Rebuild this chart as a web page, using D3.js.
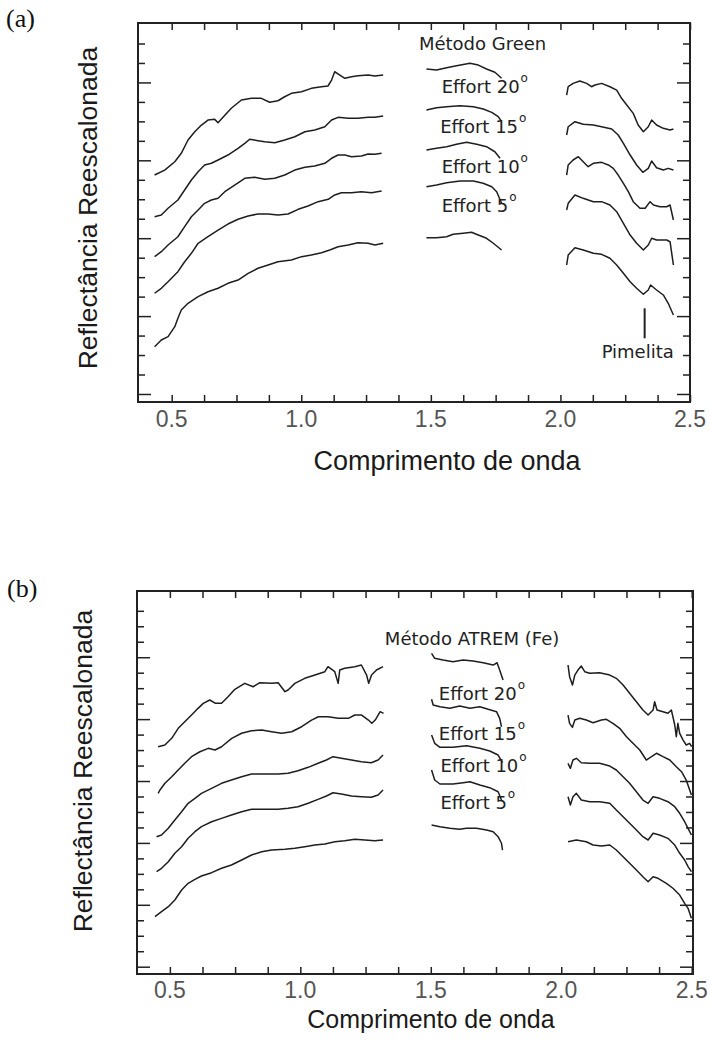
<!DOCTYPE html>
<html>
<head>
<meta charset="utf-8">
<script src="https://cdn.jsdelivr.net/npm/d3@7"></script>
<style>
  body { margin: 0; background: #fff; }
  svg { display: block; }
  .spectrum { fill: none; stroke: #1e1e1e; stroke-width: 1.5; stroke-linejoin: round; }
  .frame { fill: none; stroke: #222; stroke-width: 2; }
  .tick-axis line { stroke: #222; stroke-width: 1.5; }
  .tick-label { font-family: 'Liberation Sans', Arial, sans-serif; font-size: 23px; fill: #555; text-anchor: middle; }
  .axis-title { font-family: 'Liberation Sans', Arial, sans-serif; fill: #1a1a1a; text-anchor: middle; }
  .note { font-family: 'DejaVu Sans', sans-serif; font-size: 18px; fill: #222; }
  .panel-tag { font-family: 'Liberation Serif', 'Times New Roman', serif; font-size: 26px; fill: #111; }
</style>
</head>
<body>
<div id="chart"></div>
<script>
// wavelength (um) vs rescaled reflectance, null = gap in the water bands
const greenMethod = [[0.434,2.811],[0.473,2.875],[0.512,2.982],[0.537,3.090],[0.563,3.261],[0.589,3.367],[0.615,3.453],[0.640,3.517],[0.666,3.526],[0.679,3.483],[0.698,3.552],[0.730,3.668],[0.769,3.774],[0.808,3.796],[0.846,3.796],[0.878,3.745],[0.910,3.765],[0.936,3.816],[0.962,3.860],[1.001,3.881],[1.039,3.924],[1.078,3.945],[1.103,3.954],[1.117,4.031],[1.129,4.137],[1.149,4.095],[1.168,4.053],[1.194,4.073],[1.219,4.086],[1.258,4.095],[1.284,4.082],[1.316,4.095],
  null,[1.483,4.172],[1.522,4.159],[1.561,4.189],[1.599,4.214],[1.651,4.245],[1.683,4.223],[1.715,4.172],[1.747,4.130],[1.773,4.053],
  null,[2.024,3.838],[2.030,3.945],[2.049,3.988],[2.075,4.018],[2.101,3.988],[2.120,3.945],[2.133,3.967],[2.159,3.988],[2.191,3.945],[2.217,3.902],[2.236,3.796],[2.256,3.710],[2.281,3.603],[2.300,3.453],[2.320,3.367],[2.339,3.431],[2.352,3.517],[2.371,3.453],[2.397,3.411],[2.423,3.389],[2.436,3.402]];

const green20 = [[0.434,2.276],[0.460,2.298],[0.486,2.384],[0.524,2.490],[0.550,2.619],[0.576,2.747],[0.602,2.854],[0.627,2.940],[0.653,2.962],[0.679,3.004],[0.717,3.068],[0.756,3.154],[0.782,3.218],[0.801,3.270],[0.833,3.252],[0.859,3.239],[0.898,3.226],[0.936,3.261],[0.975,3.303],[1.014,3.367],[1.052,3.389],[1.091,3.431],[1.117,3.517],[1.142,3.552],[1.181,3.539],[1.219,3.539],[1.258,3.552],[1.284,3.552],[1.316,3.569],
  null,[1.483,3.646],[1.522,3.675],[1.561,3.688],[1.612,3.701],[1.664,3.688],[1.702,3.659],[1.735,3.616],[1.760,3.560],[1.773,3.496],
  null,[2.024,3.325],[2.030,3.431],[2.056,3.496],[2.088,3.462],[2.127,3.453],[2.159,3.431],[2.198,3.402],[2.223,3.325],[2.243,3.218],[2.269,3.068],[2.294,2.940],[2.318,2.846],[2.339,2.897],[2.352,2.991],[2.371,2.905],[2.397,2.875],[2.416,2.897],[2.436,2.875]];

const green15 = [[0.434,1.763],[0.460,1.827],[0.486,1.913],[0.524,2.019],[0.550,2.148],[0.576,2.276],[0.602,2.362],[0.627,2.448],[0.653,2.490],[0.679,2.512],[0.705,2.597],[0.743,2.683],[0.782,2.769],[0.820,2.782],[0.859,2.756],[0.898,2.769],[0.936,2.811],[0.975,2.875],[1.014,2.910],[1.052,2.927],[1.091,2.962],[1.117,3.026],[1.142,3.068],[1.168,3.068],[1.194,3.046],[1.232,3.055],[1.258,3.081],[1.284,3.077],[1.310,3.090],
  null,[1.483,3.132],[1.522,3.154],[1.561,3.175],[1.599,3.205],[1.638,3.231],[1.677,3.205],[1.715,3.175],[1.747,3.110],[1.767,3.026],
  null,[2.024,2.811],[2.030,2.940],[2.049,3.004],[2.069,3.046],[2.088,2.982],[2.107,2.918],[2.127,2.962],[2.159,2.974],[2.185,2.940],[2.204,2.897],[2.223,2.811],[2.243,2.705],[2.262,2.597],[2.281,2.469],[2.307,2.384],[2.327,2.384],[2.346,2.469],[2.359,2.426],[2.384,2.404],[2.410,2.404],[2.423,2.426],[2.436,2.234]];

const green10 = [[0.434,1.293],[0.460,1.357],[0.486,1.442],[0.524,1.570],[0.550,1.698],[0.576,1.806],[0.602,1.935],[0.640,2.019],[0.679,2.105],[0.717,2.182],[0.756,2.243],[0.795,2.285],[0.833,2.311],[0.872,2.311],[0.910,2.298],[0.949,2.311],[0.988,2.371],[1.026,2.413],[1.065,2.469],[1.104,2.499],[1.129,2.555],[1.155,2.584],[1.194,2.584],[1.232,2.597],[1.271,2.584],[1.310,2.606],
  null,[1.483,2.661],[1.522,2.683],[1.561,2.712],[1.612,2.734],[1.664,2.734],[1.702,2.705],[1.735,2.661],[1.754,2.597],[1.773,2.448],
  null,[2.024,2.362],[2.030,2.448],[2.056,2.555],[2.088,2.512],[2.127,2.469],[2.159,2.469],[2.191,2.426],[2.217,2.340],[2.243,2.191],[2.269,2.041],[2.294,1.935],[2.320,1.849],[2.339,1.913],[2.352,1.999],[2.371,1.977],[2.410,1.977],[2.423,1.955],[2.436,1.656]];

const green5 = [[0.434,0.607],[0.460,0.693],[0.486,0.736],[0.512,0.864],[0.524,0.972],[0.537,1.078],[0.563,1.164],[0.602,1.249],[0.640,1.313],[0.679,1.357],[0.717,1.421],[0.756,1.463],[0.795,1.549],[0.833,1.614],[0.872,1.656],[0.910,1.698],[0.962,1.720],[1.001,1.763],[1.039,1.784],[1.078,1.814],[1.110,1.849],[1.142,1.891],[1.181,1.913],[1.219,1.942],[1.258,1.935],[1.284,1.913],[1.316,1.935],
  null,[1.483,2.006],[1.522,2.006],[1.561,2.019],[1.586,2.050],[1.625,2.063],[1.657,2.076],[1.683,2.041],[1.715,1.999],[1.741,1.935],[1.773,1.849],
  null,[2.024,1.656],[2.030,1.784],[2.056,1.878],[2.088,1.849],[2.127,1.806],[2.159,1.793],[2.191,1.742],[2.217,1.656],[2.243,1.549],[2.269,1.442],[2.294,1.357],[2.320,1.280],[2.339,1.335],[2.348,1.399],[2.371,1.335],[2.397,1.271],[2.416,1.164],[2.436,1.014]];

const atremMethod = [[0.455,3.554],[0.481,3.582],[0.507,3.690],[0.532,3.851],[0.557,3.958],[0.583,4.066],[0.608,4.174],[0.628,4.255],[0.653,4.309],[0.675,4.255],[0.698,4.255],[0.723,4.362],[0.749,4.481],[0.787,4.578],[0.819,4.523],[0.845,4.588],[0.890,4.578],[0.915,4.588],[0.941,4.443],[0.953,4.470],[0.979,4.578],[1.017,4.659],[1.056,4.712],[1.094,4.766],[1.106,4.847],[1.132,4.766],[1.145,4.578],[1.151,4.793],[1.170,4.821],[1.209,4.847],[1.234,4.874],[1.254,4.712],[1.262,4.578],[1.273,4.712],[1.292,4.793],[1.317,4.847],
  null,[1.503,5.063],[1.515,4.982],[1.547,4.955],[1.585,4.927],[1.624,4.955],[1.662,4.939],[1.701,4.911],[1.739,4.874],[1.754,4.911],[1.764,4.793],[1.777,4.632],
  null,[2.026,4.874],[2.032,4.685],[2.043,4.551],[2.052,4.712],[2.064,4.793],[2.077,4.858],[2.090,4.766],[2.109,4.740],[2.147,4.750],[2.186,4.712],[2.211,4.659],[2.237,4.551],[2.262,4.417],[2.288,4.281],[2.313,4.147],[2.333,4.066],[2.352,4.147],[2.358,4.281],[2.367,4.147],[2.390,4.120],[2.409,4.094],[2.422,4.147],[2.428,4.039],[2.435,3.905],[2.441,3.716],[2.447,3.932],[2.454,3.771],[2.467,3.662],[2.479,3.582],[2.492,3.609],[2.500,3.554]];

const atrem20 = [[0.455,2.801],[0.462,2.855],[0.481,2.963],[0.507,3.069],[0.532,3.178],[0.557,3.286],[0.583,3.393],[0.615,3.473],[0.647,3.528],[0.673,3.501],[0.698,3.554],[0.737,3.690],[0.775,3.771],[0.813,3.813],[0.852,3.824],[0.890,3.796],[0.928,3.771],[0.967,3.796],[1.005,3.877],[1.043,3.985],[1.069,4.039],[1.107,4.039],[1.145,4.013],[1.184,4.013],[1.209,4.066],[1.235,4.066],[1.261,3.985],[1.274,3.932],[1.287,3.985],[1.306,4.120],[1.319,4.094],
  null,[1.503,4.320],[1.509,4.228],[1.535,4.200],[1.573,4.174],[1.611,4.212],[1.650,4.174],[1.688,4.200],[1.720,4.158],[1.752,4.120],[1.764,4.013],[1.771,3.877],
  null,[2.026,4.066],[2.032,3.932],[2.043,3.867],[2.052,3.985],[2.071,4.013],[2.096,3.985],[2.122,3.942],[2.154,3.985],[2.173,3.997],[2.198,3.932],[2.224,3.851],[2.250,3.716],[2.275,3.609],[2.301,3.501],[2.326,3.339],[2.346,3.393],[2.365,3.448],[2.390,3.393],[2.416,3.339],[2.441,3.231],[2.461,3.150],[2.479,3.016],[2.499,2.774]];

const atrem15 = [[0.449,2.100],[0.468,2.128],[0.494,2.236],[0.519,2.370],[0.545,2.504],[0.570,2.640],[0.596,2.720],[0.621,2.801],[0.660,2.882],[0.698,2.963],[0.736,3.016],[0.775,3.069],[0.813,3.113],[0.864,3.113],[0.915,3.113],[0.953,3.124],[0.991,3.166],[1.030,3.221],[1.068,3.286],[1.100,3.339],[1.125,3.393],[1.157,3.367],[1.196,3.339],[1.234,3.312],[1.272,3.296],[1.298,3.339],[1.317,3.420],
  null,[1.503,3.743],[1.515,3.609],[1.535,3.544],[1.585,3.544],[1.637,3.570],[1.688,3.528],[1.726,3.485],[1.758,3.420],[1.775,3.296],
  null,[2.026,3.286],[2.035,3.205],[2.045,3.339],[2.058,3.367],[2.077,3.296],[2.109,3.286],[2.147,3.286],[2.186,3.242],[2.211,3.178],[2.237,3.069],[2.262,2.963],[2.288,2.827],[2.313,2.693],[2.333,2.640],[2.352,2.746],[2.377,2.720],[2.409,2.666],[2.435,2.585],[2.454,2.478],[2.473,2.342],[2.486,2.236],[2.499,2.128]];

const atrem10 = [[0.449,1.535],[0.468,1.590],[0.494,1.696],[0.519,1.832],[0.545,1.939],[0.570,2.074],[0.596,2.181],[0.621,2.262],[0.660,2.342],[0.698,2.397],[0.736,2.451],[0.775,2.504],[0.813,2.543],[0.864,2.543],[0.915,2.543],[0.953,2.559],[0.991,2.585],[1.030,2.640],[1.068,2.704],[1.100,2.758],[1.125,2.811],[1.157,2.790],[1.196,2.758],[1.234,2.746],[1.272,2.737],[1.298,2.774],[1.317,2.855],
  null,[1.503,3.178],[1.515,3.016],[1.535,2.952],[1.585,2.952],[1.624,2.973],[1.650,2.989],[1.688,2.935],[1.726,2.892],[1.758,2.827],[1.771,2.693],
  null,[2.026,2.746],[2.035,2.612],[2.045,2.746],[2.058,2.801],[2.077,2.693],[2.109,2.666],[2.147,2.666],[2.186,2.640],[2.211,2.531],[2.237,2.423],[2.262,2.317],[2.288,2.208],[2.313,2.100],[2.333,2.047],[2.352,2.155],[2.377,2.128],[2.409,2.074],[2.435,1.966],[2.454,1.832],[2.473,1.724],[2.486,1.616],[2.499,1.535]];

const atrem5 = [[0.443,0.808],[0.468,0.889],[0.494,0.969],[0.519,1.078],[0.545,1.239],[0.570,1.347],[0.596,1.412],[0.621,1.465],[0.660,1.519],[0.698,1.590],[0.736,1.643],[0.775,1.724],[0.813,1.805],[0.852,1.858],[0.890,1.885],[0.941,1.897],[0.979,1.913],[1.017,1.939],[1.056,1.966],[1.094,1.982],[1.132,2.019],[1.170,2.036],[1.209,2.058],[1.247,2.047],[1.285,2.036],[1.317,2.047],
  null,[1.503,2.289],[1.535,2.262],[1.573,2.236],[1.611,2.220],[1.637,2.236],[1.675,2.236],[1.714,2.208],[1.739,2.181],[1.758,2.100],[1.771,1.994],[1.775,1.885],
  null,[2.026,2.019],[2.058,2.047],[2.096,2.019],[2.122,1.966],[2.154,1.950],[2.186,1.966],[2.211,1.885],[2.237,1.777],[2.262,1.670],[2.288,1.562],[2.313,1.454],[2.333,1.373],[2.352,1.454],[2.371,1.428],[2.403,1.347],[2.428,1.267],[2.454,1.158],[2.473,1.024],[2.486,0.943],[2.499,0.782]];

const xTickLabels = [0.5, 1.0, 1.5, 2.0, 2.5];
const xTickStep = 0.125;
const yTickStep = 0.25;

// label text, anchored at [wavelength, reflectance] of the text baseline start
const greenNotes = [
  {text: 'Método Green', at: [1.454, 4.416], deg: false},
  {text: 'Effort 20', at: [1.542, 3.864], deg: true},
  {text: 'Effort 15', at: [1.536, 3.347], deg: true},
  {text: 'Effort 10', at: [1.542, 2.833], deg: true},
  {text: 'Effort 5', at: [1.542, 2.340], deg: true},
  {text: 'Pimelita', at: [2.159, 0.458], deg: false}
];
const atremNotes = [
  {text: 'Método ATREM (Fe)', at: [1.324, 5.197], deg: false},
  {text: 'Effort 20', at: [1.531, 4.309], deg: true},
  {text: 'Effort 15', at: [1.531, 3.662], deg: true},
  {text: 'Effort 10', at: [1.537, 3.150], deg: true},
  {text: 'Effort 5', at: [1.537, 2.548], deg: true}
];
const pimelitaMarker = [[2.325, 1.100], [2.325, 0.715]];

const svg = d3.select('#chart').append('svg')
    .attr('width', 710)
    .attr('height', 1041);

class SpectraPanel {
  constructor(_config, _data) {
    this.config = _config;
    this.data = _data;
    this.initVis();
  }

  initVis() {
    const vis = this;
    const c = vis.config;

    vis.xScale = d3.scaleLinear().domain(c.xDomain).range([c.left, c.right]);
    vis.yScale = d3.scaleLinear().domain(c.yDomain).range([c.bottom, c.top]);

    vis.g = svg.append('g');

    vis.g.append('text')
        .attr('class', 'panel-tag')
        .attr('x', c.tag[0])
        .attr('y', c.tag[1])
        .text(c.tagText);

    const line = d3.line()
        .defined(d => d !== null)
        .x(d => vis.xScale(d[0]))
        .y(d => vis.yScale(d[1]));

    vis.g.selectAll('.spectrum')
        .data(vis.data.series)
        .join('path')
        .attr('class', 'spectrum')
        .attr('d', d => line(d));

    vis.drawTicks();

    vis.g.append('rect')
        .attr('class', 'frame')
        .attr('x', c.left)
        .attr('y', c.top)
        .attr('width', c.right - c.left)
        .attr('height', c.bottom - c.top);

    vis.g.selectAll('.tick-label')
        .data(xTickLabels)
        .join('text')
        .attr('class', 'tick-label')
        .attr('x', d => vis.xScale(d))
        .attr('y', c.labelBaseline)
        .text(d3.format('.1f'));

    vis.g.append('text')
        .attr('class', 'axis-title')
        .attr('x', c.xTitle[0])
        .attr('y', c.xTitle[1])
        .style('font-size', c.xTitleSize + 'px')
        .text('Comprimento de onda');

    vis.g.append('text')
        .attr('class', 'axis-title')
        .attr('transform', `translate(${c.yTitle[0]},${c.yTitle[1]}) rotate(-90)`)
        .style('font-size', c.yTitleSize + 'px')
        .text('Reflectância Reescalonada');

    const notes = vis.g.selectAll('.note')
        .data(vis.data.notes)
        .join('text')
        .attr('class', 'note')
        .attr('x', d => vis.xScale(d.at[0]))
        .attr('y', d => vis.yScale(d.at[1]));
    notes.append('tspan').text(d => d.text);
    notes.filter(d => d.deg).append('tspan')
        .attr('dx', 1)
        .attr('dy', -11)
        .style('font-size', '12px')
        .text('o');

    if (vis.data.marker) {
      vis.g.append('path')
          .attr('d', d3.line().x(d => vis.xScale(d[0])).y(d => vis.yScale(d[1]))(vis.data.marker))
          .attr('stroke', '#222')
          .attr('stroke-width', 2);
    }
  }

  drawTicks() {
    const vis = this;
    const c = vis.config;
    const xTicks = d3.range(0.5, 2.5 + 1e-6, xTickStep);
    const yAll = d3.range(0, c.yTopTick + 1e-6, yTickStep);
    const yMinor = yAll.filter(d => Math.abs(d - Math.round(d)) > 1e-6);
    const yMajor = yAll.filter(d => Math.abs(d - Math.round(d)) <= 1e-6);

    const addAxis = (axis, tx, ty) => {
      vis.g.append('g')
          .attr('class', 'tick-axis')
          .attr('transform', `translate(${tx},${ty})`)
          .call(axis.tickSizeOuter(0).tickFormat(''))
          .call(g => g.select('.domain').remove());
    };

    addAxis(d3.axisBottom(vis.xScale).tickValues(xTicks).tickSizeInner(-7), 0, c.bottom);
    addAxis(d3.axisTop(vis.xScale).tickValues(xTicks).tickSizeInner(-7), 0, c.top);
    addAxis(d3.axisLeft(vis.yScale).tickValues(yMinor).tickSizeInner(-7), c.left, 0);
    addAxis(d3.axisLeft(vis.yScale).tickValues(yMajor).tickSizeInner(-13), c.left, 0);
    addAxis(d3.axisRight(vis.yScale).tickValues(yMinor).tickSizeInner(-7), c.right, 0);
    addAxis(d3.axisRight(vis.yScale).tickValues(yMajor).tickSizeInner(-13), c.right, 0);
  }
}

new SpectraPanel({
  left: 138, right: 690, top: 23, bottom: 402,
  xDomain: [0.370, 2.5], yDomain: [-0.103, 4.763], yTopTick: 4.5,
  labelBaseline: 427, xTitle: [447, 470], xTitleSize: 27,
  yTitle: [97, 208], yTitleSize: 26.5,
  tag: [6, 27], tagText: '(a)'
}, {
  series: [greenMethod, green20, green15, green10, green5],
  notes: greenNotes,
  marker: pimelitaMarker
});

new SpectraPanel({
  left: 137, right: 693, top: 591, bottom: 974,
  xDomain: [0.374, 2.505], yDomain: [-0.118, 6.070], yTopTick: 5.75,
  labelBaseline: 998, xTitle: [431, 1028], xTitleSize: 25,
  yTitle: [92, 771], yTitleSize: 26.5,
  tag: [7, 597], tagText: '(b)'
}, {
  series: [atremMethod, atrem20, atrem15, atrem10, atrem5],
  notes: atremNotes
});
</script>
</body>
</html>
